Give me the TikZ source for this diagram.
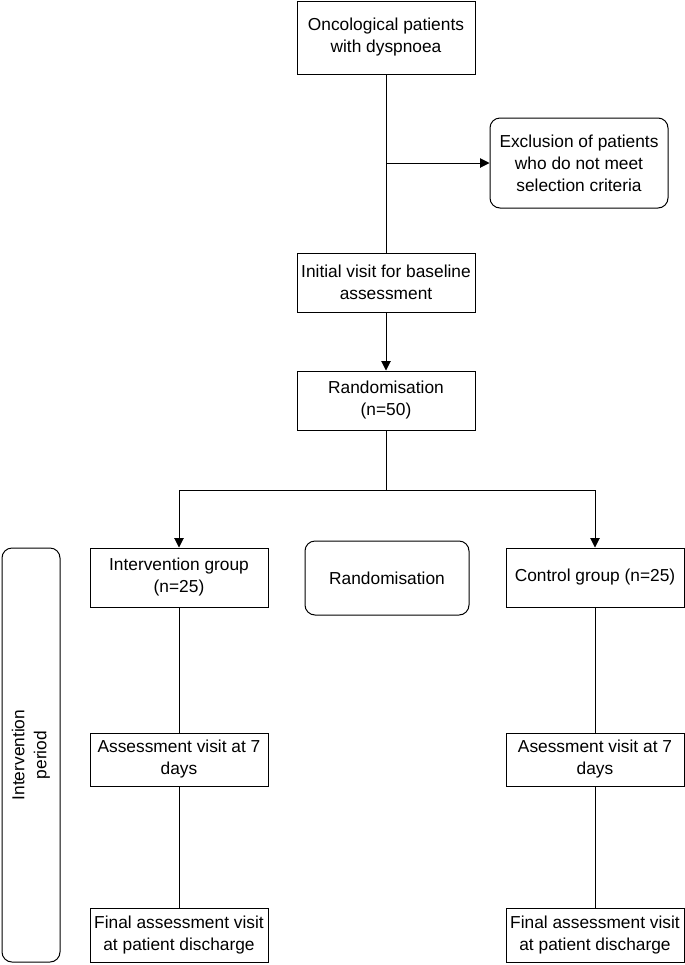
\documentclass[tikz,border=0pt]{standalone}
\usepackage{fontspec}
\setmainfont{Liberation Sans}
\usetikzlibrary{arrows.meta}

\begin{document}
\begin{tikzpicture}[x=0.75pt,y=0.75pt,yscale=-1,xscale=1,
	box/.style={draw,line width=0.75pt,align=center,inner sep=1pt,minimum width=133.5pt,minimum height=44.25pt,font=\fontsize{13pt}{16.5pt}\selectfont},
	roundbox/.style={box,rounded corners=7.5pt},
	link/.style={line width=0.75pt},
	arr/.style={link,-{Triangle[length=7pt,width=7pt]}}]
	\useasboundingbox (0,0) rectangle (685,965);
	\node [box,minimum height=54.75pt] (onco) at (386,37.5) {Oncological patients\\with dyspnoea};
	\node [roundbox,minimum height=67.5pt] (excl) at (579,163) {Exclusion of patients\\who do not meet\\selection criteria};
	\node [box] (init) at (386,282.5) {Initial visit for baseline\\assessment};
	\node [box] (rand) at (386,400.5) {Randomisation\\(n=50)};
	\node [box] (interv) at (179,577.5) {Intervention group\\(n=25)};
	\node [roundbox,minimum width=123pt,minimum height=55.5pt] (randlab) at (387,578) {Randomisation};
	\node [box] (ctrl) at (595,577.5) {Control group (n=25)};
	\node [box,minimum height=39.75pt] (assessi) at (179,759.5) {Assessment visit at 7\\days};
	\node [box,minimum height=39.75pt] (assessc) at (595,759.5) {Asessment visit at 7\\days};
	\node [box,minimum height=40.5pt] (finali) at (179,935) {Final assessment visit\\at patient discharge};
	\node [box,minimum height=40.5pt] (finalc) at (595,935) {Final assessment visit\\at patient discharge};
	\node [roundbox,minimum width=310.5pt,minimum height=43.5pt,rotate=90] (period) at (31,755) {Intervention\\period};
	\coordinate (split) at (386,490);
	\draw [link] (onco) -- (init);
	\draw [arr] (onco.south |- excl.west) -- (excl.west);
	\draw [arr] (init) -- (rand);
	\draw [link] (rand) -- (split);
	\draw [arr] (split) -| (interv.north);
	\draw [arr] (split) -| (ctrl.north);
	\draw [link] (interv) -- (assessi) -- (finali);
	\draw [link] (ctrl) -- (assessc) -- (finalc);
\end{tikzpicture}
\end{document}
